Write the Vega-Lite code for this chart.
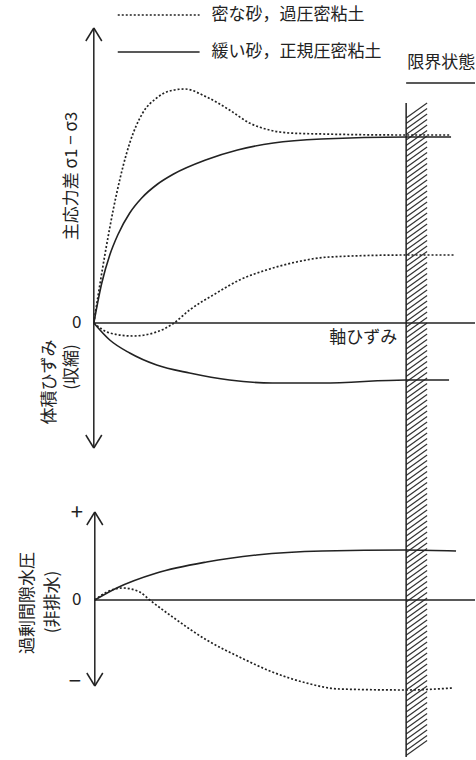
{
  "$schema": "https://vega.github.io/schema/vega-lite/v6.json",
  "width": 476,
  "height": 760,
  "autosize": {"type": "fit", "contains": "padding"},
  "padding": 0,
  "background": "white",
  "config": {"view": {"stroke": null}, "text": {"font": "Noto Sans CJK JP", "color": "#222"}},
  "resolve": {"scale": {"y": "independent"}},
  "encoding": {
    "x": {"field": "x", "type": "quantitative", "scale": {"domain": [-23.5, 95.5], "nice": false, "zero": false}, "axis": null}
  },
  "layer": [
    {
      "encoding": {
        "y": {"field": "y", "type": "quantitative", "scale": {"domain": [-218.5, 161.5], "nice": false, "zero": false}, "axis": null}
      },
      "layer": [
        {
          "data": {"values": [
            {"x": 78.25, "y": 102.5}, {"x": 78.25, "y": 99.75}, {"x": 78.25, "y": 97}, {"x": 78.25, "y": 94.25}, {"x": 78.25, "y": 91.5}, {"x": 78.25, "y": 88.75}, {"x": 78.25, "y": 86}, {"x": 78.25, "y": 83.25}, {"x": 78.25, "y": 80.5}, {"x": 78.25, "y": 77.75},
            {"x": 78.25, "y": 75}, {"x": 78.25, "y": 72.25}, {"x": 78.25, "y": 69.5}, {"x": 78.25, "y": 66.75}, {"x": 78.25, "y": 64}, {"x": 78.25, "y": 61.25}, {"x": 78.25, "y": 58.5}, {"x": 78.25, "y": 55.75}, {"x": 78.25, "y": 53}, {"x": 78.25, "y": 50.25},
            {"x": 78.25, "y": 47.5}, {"x": 78.25, "y": 44.75}, {"x": 78.25, "y": 42}, {"x": 78.25, "y": 39.25}, {"x": 78.25, "y": 36.5}, {"x": 78.25, "y": 33.75}, {"x": 78.25, "y": 31}, {"x": 78.25, "y": 28.25}, {"x": 78.25, "y": 25.5}, {"x": 78.25, "y": 22.75},
            {"x": 78.25, "y": 20}, {"x": 78.25, "y": 17.25}, {"x": 78.25, "y": 14.5}, {"x": 78.25, "y": 11.75}, {"x": 78.25, "y": 9}, {"x": 78.25, "y": 6.25}, {"x": 78.25, "y": 3.5}, {"x": 78.25, "y": 0.75}, {"x": 78.25, "y": -2}, {"x": 78.25, "y": -4.75},
            {"x": 78.25, "y": -7.5}, {"x": 78.25, "y": -10.25}, {"x": 78.25, "y": -13}, {"x": 78.25, "y": -15.75}, {"x": 78.25, "y": -18.5}, {"x": 78.25, "y": -21.25}, {"x": 78.25, "y": -24}, {"x": 78.25, "y": -26.75}, {"x": 78.25, "y": -29.5}, {"x": 78.25, "y": -32.25},
            {"x": 78.25, "y": -35}, {"x": 78.25, "y": -37.75}, {"x": 78.25, "y": -40.5}, {"x": 78.25, "y": -43.25}, {"x": 78.25, "y": -46}, {"x": 78.25, "y": -48.75}, {"x": 78.25, "y": -51.5}, {"x": 78.25, "y": -54.25}, {"x": 78.25, "y": -57}, {"x": 78.25, "y": -59.75},
            {"x": 78.25, "y": -62.5}, {"x": 78.25, "y": -65.25}, {"x": 78.25, "y": -68}, {"x": 78.25, "y": -70.75}, {"x": 78.25, "y": -73.5}, {"x": 78.25, "y": -76.25}, {"x": 78.25, "y": -79}, {"x": 78.25, "y": -81.75}, {"x": 78.25, "y": -84.5}, {"x": 78.25, "y": -87.25},
            {"x": 78.25, "y": -90}, {"x": 78.25, "y": -92.75}, {"x": 78.25, "y": -95.5}, {"x": 78.25, "y": -98.25}, {"x": 78.25, "y": -101}, {"x": 78.25, "y": -103.75}, {"x": 78.25, "y": -106.5}, {"x": 78.25, "y": -109.25}, {"x": 78.25, "y": -112}, {"x": 78.25, "y": -114.75},
            {"x": 78.25, "y": -117.5}, {"x": 78.25, "y": -120.25}, {"x": 78.25, "y": -123}, {"x": 78.25, "y": -125.75}, {"x": 78.25, "y": -128.5}, {"x": 78.25, "y": -131.25}, {"x": 78.25, "y": -134}, {"x": 78.25, "y": -136.75}, {"x": 78.25, "y": -139.5}, {"x": 78.25, "y": -142.25},
            {"x": 78.25, "y": -145}, {"x": 78.25, "y": -147.75}, {"x": 78.25, "y": -150.5}, {"x": 78.25, "y": -153.25}, {"x": 78.25, "y": -156}, {"x": 78.25, "y": -158.75}, {"x": 78.25, "y": -161.5}, {"x": 78.25, "y": -164.25}, {"x": 78.25, "y": -167}, {"x": 78.25, "y": -169.75},
            {"x": 78.25, "y": -172.5}, {"x": 78.25, "y": -175.25}, {"x": 78.25, "y": -178}, {"x": 78.25, "y": -180.75}, {"x": 78.25, "y": -183.5}, {"x": 78.25, "y": -186.25}, {"x": 78.25, "y": -189}, {"x": 78.25, "y": -191.75}, {"x": 78.25, "y": -194.5}, {"x": 78.25, "y": -197.25},
            {"x": 78.25, "y": -200}, {"x": 78.25, "y": -202.75}, {"x": 78.25, "y": -205.5}, {"x": 78.25, "y": -208.25}, {"x": 78.25, "y": -211}, {"x": 78.25, "y": -213.75}, {"x": 78.25, "y": -216.25}
          ]},
          "mark": {"type": "rule", "y2Offset": -15, "strokeWidth": 1.2, "color": "#333"},
          "encoding": {
            "x2": {"datum": 83.5},
            "y2": {"field": "y"}
          }
        },
        {
          "data": {"values": [
            {"x": 78.25, "y": 110, "x2": 78.25, "y2": -217},
            {"x": 0, "y": 147.5, "x2": 0, "y2": -62.5},
            {"x": -2, "y": 141, "x2": 0, "y2": 147.5},
            {"x": 2, "y": 141, "x2": 0, "y2": 147.5},
            {"x": -2, "y": -56, "x2": 0, "y2": -62.5},
            {"x": 2, "y": -56, "x2": 0, "y2": -62.5},
            {"x": 0, "y": 0, "x2": 95.5, "y2": 0},
            {"x": 78.25, "y": 120, "x2": 95.5, "y2": 120},
            {"x": 6, "y": 135.5, "x2": 26.5, "y2": 135.5}
          ]},
          "mark": {"type": "rule", "strokeWidth": 1.5, "color": "#222"},
          "encoding": {"x2": {"field": "x2"}, "y2": {"field": "y2"}}
        },
        {
          "data": {"values": [
            {"c": "q", "x": 0, "y": 0}, {"c": "q", "x": 2.25, "y": 28}, {"c": "q", "x": 5.75, "y": 65}, {"c": "q", "x": 9, "y": 90},
            {"c": "q", "x": 12.25, "y": 105}, {"c": "q", "x": 15.75, "y": 112.5}, {"c": "q", "x": 19, "y": 116}, {"c": "q", "x": 22.75, "y": 117},
            {"c": "q", "x": 28.25, "y": 113}, {"c": "q", "x": 34, "y": 106.5}, {"c": "q", "x": 39, "y": 100}, {"c": "q", "x": 44, "y": 96.5},
            {"c": "q", "x": 49, "y": 95}, {"c": "q", "x": 57.25, "y": 94.5}, {"c": "q", "x": 78.25, "y": 94}, {"c": "q", "x": 89.5, "y": 94},
            {"c": "v", "x": 0, "y": 0}, {"c": "v", "x": 4, "y": -5}, {"c": "v", "x": 9.75, "y": -6.5}, {"c": "v", "x": 15.75, "y": -4.5},
            {"c": "v", "x": 19.75, "y": -0.5}, {"c": "v", "x": 24, "y": 6.5}, {"c": "v", "x": 30.75, "y": 15}, {"c": "v", "x": 36.5, "y": 21.5},
            {"c": "v", "x": 43.25, "y": 26.5}, {"c": "v", "x": 50.75, "y": 30.5}, {"c": "v", "x": 59, "y": 33}, {"c": "v", "x": 78.25, "y": 34},
            {"c": "v", "x": 90.25, "y": 34},
            {"c": "legend", "x": 6, "y": 154}, {"c": "legend", "x": 26.5, "y": 154}
          ]},
          "mark": {"type": "line", "interpolate": "monotone", "strokeDash": [2, 2], "strokeWidth": 1.7, "color": "#222"},
          "encoding": {"detail": {"field": "c"}}
        },
        {
          "data": {"values": [
            {"c": "q", "x": 0, "y": 0}, {"c": "q", "x": 2, "y": 20}, {"c": "q", "x": 4, "y": 34}, {"c": "q", "x": 6, "y": 44},
            {"c": "q", "x": 9, "y": 55}, {"c": "q", "x": 12, "y": 62.5}, {"c": "q", "x": 16, "y": 69.5}, {"c": "q", "x": 20, "y": 74.5},
            {"c": "q", "x": 28, "y": 81.5}, {"c": "q", "x": 36, "y": 86.5}, {"c": "q", "x": 45, "y": 90}, {"c": "q", "x": 57, "y": 92},
            {"c": "q", "x": 78.25, "y": 93}, {"c": "q", "x": 89.5, "y": 93},
            {"c": "v", "x": 0, "y": 0}, {"c": "v", "x": 4, "y": -8.5}, {"c": "v", "x": 9, "y": -15}, {"c": "v", "x": 15.75, "y": -21},
            {"c": "v", "x": 24, "y": -25}, {"c": "v", "x": 34, "y": -28.5}, {"c": "v", "x": 44.75, "y": -30}, {"c": "v", "x": 57.25, "y": -30},
            {"c": "v", "x": 78.25, "y": -28.5}, {"c": "v", "x": 89, "y": -28.5}
          ]},
          "mark": {"type": "line", "interpolate": "monotone", "strokeWidth": 1.6, "color": "#222"},
          "encoding": {"detail": {"field": "c"}}
        },
        {
          "data": {"values": [{"x": -4.25, "y": 0, "t": "0"}]},
          "mark": {"type": "text", "fontSize": 17, "align": "center", "baseline": "middle"},
          "encoding": {"text": {"field": "t"}}
        },
        {
          "data": {"values": [
            {"x": 29.5, "y": 154, "t": "密な砂，過圧密粘土"},
            {"x": 29.5, "y": 135.5, "t": "緩い砂，正規圧密粘土"},
            {"x": 78.5, "y": 130, "t": "限界状態"}
          ]},
          "mark": {"type": "text", "fontSize": 17, "align": "left", "baseline": "middle"},
          "encoding": {"text": {"field": "t"}}
        },
        {
          "data": {"values": [{"x": 76, "y": -7.5, "t": "軸ひずみ"}]},
          "mark": {"type": "text", "fontSize": 17, "align": "right", "baseline": "middle"},
          "encoding": {"text": {"field": "t"}}
        },
        {
          "data": {"values": [
            {"x": -5.5, "y": 73.5, "t": "主応力差 σ1 − σ3"},
            {"x": -11, "y": -29.5, "t": "体積ひずみ"},
            {"x": -5.5, "y": -22, "t": "(収縮)"}
          ]},
          "mark": {"type": "text", "fontSize": 17, "angle": 270, "align": "center", "baseline": "middle"},
          "encoding": {"text": {"field": "t"}}
        }
      ]
    },
    {
      "encoding": {
        "y": {"field": "y", "type": "quantitative", "scale": {"domain": [-80, 300], "nice": false, "zero": false}, "axis": null}
      },
      "layer": [
        {
          "data": {"values": [
            {"x": 0.25, "y": 44, "x2": 0.25, "y2": -43},
            {"x": -1.75, "y": 37.5, "x2": 0.25, "y2": 44},
            {"x": 2.25, "y": 37.5, "x2": 0.25, "y2": 44},
            {"x": -1.75, "y": -36.5, "x2": 0.25, "y2": -43},
            {"x": 2.25, "y": -36.5, "x2": 0.25, "y2": -43},
            {"x": 0.25, "y": 0, "x2": 95.5, "y2": 0}
          ]},
          "mark": {"type": "rule", "strokeWidth": 1.5, "color": "#222"},
          "encoding": {"x2": {"field": "x2"}, "y2": {"field": "y2"}}
        },
        {
          "data": {"values": [
            {"x": 0.25, "y": 0}, {"x": 3.25, "y": 4}, {"x": 7.25, "y": 6}, {"x": 11.5, "y": 4}, {"x": 14, "y": 0},
            {"x": 19.75, "y": -8.5}, {"x": 28.25, "y": -20}, {"x": 36.5, "y": -28.5}, {"x": 44.75, "y": -36},
            {"x": 53.25, "y": -41.5}, {"x": 61.5, "y": -44.5}, {"x": 78.25, "y": -45}, {"x": 89.75, "y": -44}
          ]},
          "mark": {"type": "line", "interpolate": "monotone", "strokeDash": [2, 2], "strokeWidth": 1.7, "color": "#222"}
        },
        {
          "data": {"values": [
            {"x": 0.25, "y": 0}, {"x": 5.75, "y": 6}, {"x": 15.75, "y": 13.5}, {"x": 28.25, "y": 19},
            {"x": 40.75, "y": 22.5}, {"x": 57.25, "y": 24.5}, {"x": 78.25, "y": 25}, {"x": 90.75, "y": 24.5}
          ]},
          "mark": {"type": "line", "interpolate": "monotone", "strokeWidth": 1.6, "color": "#222"}
        },
        {
          "data": {"values": [{"x": -4.25, "y": 0, "t": "0"}]},
          "mark": {"type": "text", "fontSize": 17, "align": "center", "baseline": "middle"},
          "encoding": {"text": {"field": "t"}}
        },
        {
          "data": {"values": [
            {"x": -4.25, "y": 43.5, "t": "+"},
            {"x": -4.75, "y": -41, "t": "−"}
          ]},
          "mark": {"type": "text", "fontSize": 22, "align": "center", "baseline": "middle"},
          "encoding": {"text": {"field": "t"}}
        },
        {
          "data": {"values": [
            {"x": -16.5, "y": -1.5, "t": "過剰間隙水圧"},
            {"x": -10.25, "y": -1, "t": "(非排水)"}
          ]},
          "mark": {"type": "text", "fontSize": 17, "angle": 270, "align": "center", "baseline": "middle"},
          "encoding": {"text": {"field": "t"}}
        }
      ]
    }
  ]
}
